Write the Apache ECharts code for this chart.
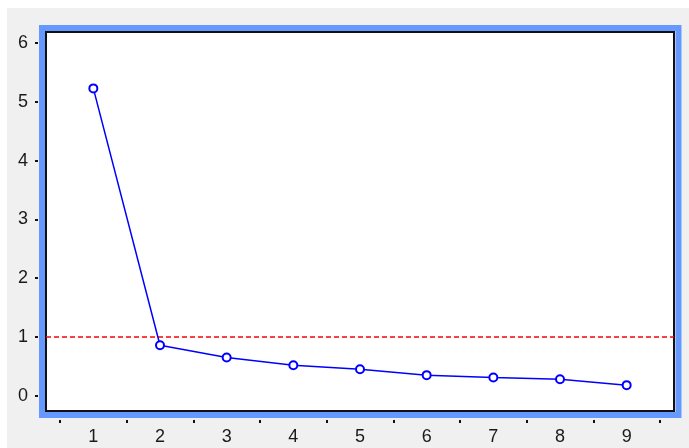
<!DOCTYPE html>
<html>
<head>
<meta charset="utf-8">
<script src="https://cdn.jsdelivr.net/npm/echarts@6/dist/echarts.min.js"></script>
<style>
html,body{margin:0;padding:0;background:#ffffff;}
#chart{width:689px;height:448px;}
</style>
</head>
<body>
<div id="chart"></div>
<script>
var components = [1, 2, 3, 4, 5, 6, 7, 8, 9];
var eigenvalues = [5.23, 0.86, 0.65, 0.52, 0.45, 0.35, 0.31, 0.28, 0.18];
var yTickLabels = [0, 1, 2, 3, 4, 5, 6];
var xTickMarks = [0.5, 1.5, 2.5, 3.5, 4.5, 5.5, 6.5, 7.5, 8.5, 9.5];
var referenceLevel = 1;

var points = components.map(function (c, i) { return [c, eigenvalues[i]]; });

var chart = echarts.init(document.getElementById('chart'), null, {renderer: 'canvas'});
var labelFont = {fontFamily: 'Liberation Sans, Arial, sans-serif', fontSize: 18, color: '#1a1a1a'};

chart.setOption({
  animation: false,
  backgroundColor: '#ffffff',
  graphic: [
    {type: 'rect', z: -10, shape: {x: 7, y: 8, width: 682, height: 440}, style: {fill: '#f0f0f0'}},
    {type: 'rect', z: 100, shape: {x: 42, y: 28, width: 636.5, height: 387}, style: {fill: null, stroke: '#6699ff', lineWidth: 6}}
  ],
  grid: {
    left: 46, right: 15, top: 32, bottom: 37,
    show: true, backgroundColor: '#ffffff', borderColor: '#111111', borderWidth: 2
  },
  xAxis: {
    type: 'value', min: 0.29, max: 9.71, offset: 9,
    splitLine: {show: false},
    axisLine: {show: false, onZero: false},
    axisTick: {show: true, length: 3, customValues: xTickMarks, lineStyle: {color: '#111', width: 2}},
    axisLabel: Object.assign({margin: 8, customValues: components}, labelFont)
  },
  yAxis: {
    type: 'value', min: -0.26, max: 6.19, offset: 8,
    splitLine: {show: false},
    axisLine: {show: false, onZero: false},
    axisTick: {show: true, length: 3, customValues: yTickLabels, lineStyle: {color: '#111', width: 2}},
    axisLabel: Object.assign({margin: 10, customValues: yTickLabels}, labelFont)
  },
  series: [{
    type: 'line',
    data: points,
    symbol: 'emptyCircle',
    symbolSize: 8,
    lineStyle: {color: '#0000ff', width: 1.5},
    itemStyle: {color: '#0000ff', borderWidth: 1.5, borderColor: '#0000ff'},
    markLine: {
      silent: true,
      symbol: ['none', 'none'],
      label: {show: false},
      lineStyle: {color: '#ff0000', type: [5, 3], width: 1.5},
      data: [{yAxis: referenceLevel}]
    },
    z: 5
  }]
});
</script>
</body>
</html>
